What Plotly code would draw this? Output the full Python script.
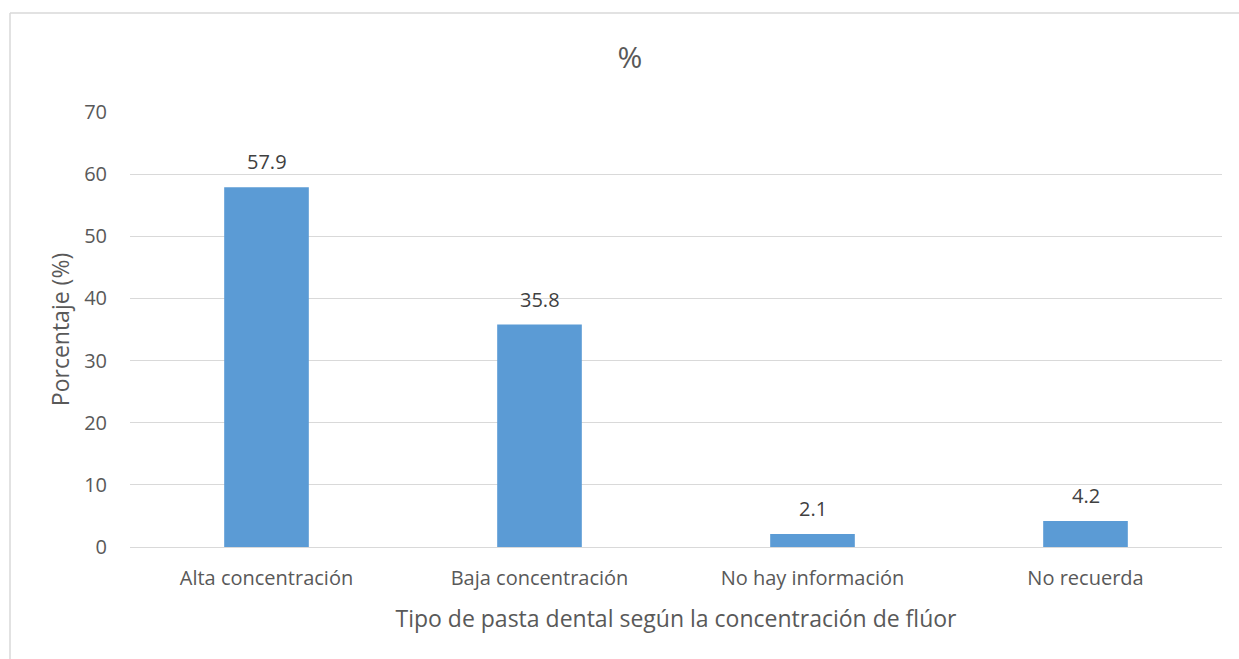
import plotly.graph_objects as go

categorias = ["Alta concentración", "Baja concentración", "No hay información", "No recuerda"]
porcentajes = [57.9, 35.8, 2.1, 4.2]
etiquetas = ["57.9", "35.8", "2.1", "4.2"]
ticks_y = [0, 10, 20, 30, 40, 50, 60, 70]

gris = "#595959"
fuente = "Open Sans"
alto = 659

fig = go.Figure(
    go.Bar(
        x=categorias,
        y=porcentajes,
        marker=dict(color="#5B9BD5", line=dict(width=0)),
        cliponaxis=False,
    )
)

# value labels sitting a little above each bar
for cat, val, txt in zip(categorias, porcentajes, etiquetas):
    fig.add_annotation(
        x=cat,
        y=val,
        text=txt,
        showarrow=False,
        yanchor="bottom",
        yshift=10,
        font=dict(family=fuente, size=20, color="#404040"),
    )

# chart frame (top and left edges)
marco = dict(color="#D9D9D9", width=1.5)
fig.add_shape(type="line", xref="paper", yref="paper",
              x0=-120 / 1092, x1=1.2, y0=1 + 99 / 435, y1=1 + 99 / 435, line=marco)
fig.add_shape(type="line", xref="paper", yref="paper",
              x0=-120 / 1092, x1=-120 / 1092, y0=-0.5, y1=1 + 99 / 435, line=marco)

fig.update_layout(
    width=1239,
    height=alto,
    margin=dict(l=130, r=17, t=112, b=alto - 112 - 435),
    paper_bgcolor="white",
    plot_bgcolor="white",
    bargap=0.69,
    showlegend=False,
    title=dict(
        text="%",
        x=630 / 1239,
        xref="container",
        xanchor="center",
        y=1 - 57 / alto,
        yref="container",
        yanchor="middle",
        font=dict(family=fuente, size=30, color=gris),
    ),
    font=dict(family=fuente, color=gris),
)

fig.update_xaxes(
    tickfont=dict(family=fuente, size=20, color=gris),
    title=dict(
        text="Tipo de pasta dental según la concentración de flúor",
        font=dict(family=fuente, size=23, color=gris),
        standoff=20,
    ),
    showline=False,
    ticks="",
    ticklabelstandoff=17,
)

fig.update_yaxes(
    range=[0, 70],
    tickvals=ticks_y,
    tickfont=dict(family=fuente, size=20, color=gris),
    title=dict(
        text="Porcentaje (%)",
        font=dict(family=fuente, size=23, color=gris),
        standoff=8,
    ),
    showgrid=True,
    gridcolor="#D9D9D9",
    gridwidth=1,
    zeroline=True,
    zerolinecolor="#D9D9D9",
    zerolinewidth=1,
    ticks="",
    ticklabelstandoff=22,
)

fig.write_html("out.html")
